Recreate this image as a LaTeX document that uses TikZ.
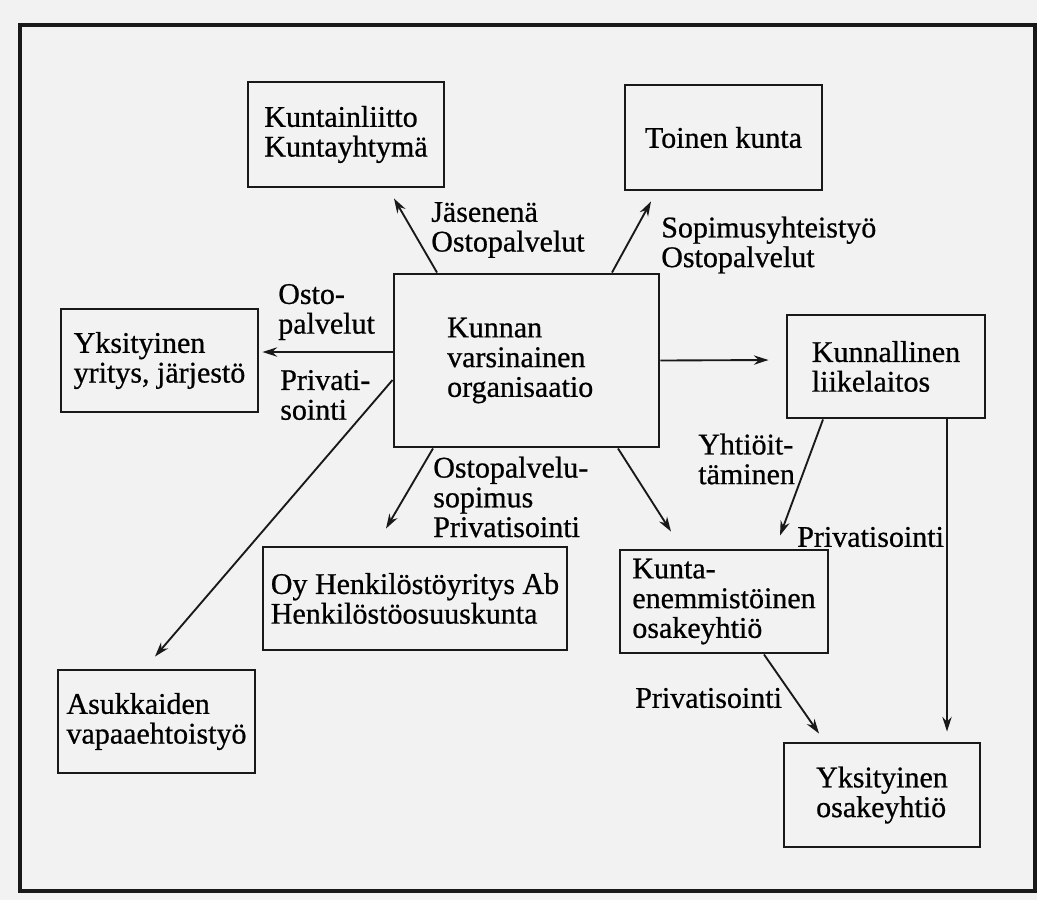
\documentclass[tikz,border=0pt]{standalone}
\usepackage{fontspec}
\setmainfont{Liberation Serif}
\newfontfamily\heavyserif{Liberation Serif}[FakeBold=0.7]
\usetikzlibrary{arrows.meta,calc}
\begin{document}
\begin{tikzpicture}[x=0.75pt,y=-0.75pt,
  txt/.style={font=\heavyserif\fontsize{22.5}{22.3}\selectfont},
  box/.style={txt,draw=black!90,line width=2.2pt,inner sep=0pt,align=left},
  lbl/.style={txt,inner sep=0pt,align=left,anchor=west},
  arr/.style={line width=1.4pt,draw=black!90,-{Stealth[length=11pt,width=7pt]}}
]
\useasboundingbox (0,0) rectangle (1037,900);
\fill[black!5] (0,0) rectangle (1037,900);
\draw[line width=2.4pt,black!90] (20,25) rectangle (1035,891);

\node[box,minimum width=147pt,minimum height=78.75pt] (kl) at (346,134.5) {Kuntainliitto\\Kuntayhtymä};
\node[box,minimum width=147.75pt,minimum height=78.75pt] (tk) at (723.5,137.5) {Toinen kunta};
\node[box,minimum width=198.75pt,minimum height=129.75pt,text width=119pt] (c) at (526.5,360.5) {Kunnan\\varsinainen\\organisaatio};
\node[box,minimum width=147.75pt,minimum height=77.25pt] (yy) at (159.5,360.5) {Yksityinen\\yritys, järjestö};
\node[box,minimum width=148.5pt,minimum height=77.25pt] (kli) at (886,366.5) {Kunnallinen\\liikelaitos};
\node[box,minimum width=228pt,minimum height=77.25pt] (oy) at (415,598.5) {Oy Henkilöstöyritys Ab\\Henkilöstöosuuskunta};
\node[box,minimum width=156pt,minimum height=77.25pt] (ke) at (724,601.5) {Kunta-\\enemmistöinen\\osakeyhtiö};
\node[box,minimum width=147.75pt,minimum height=77.25pt] (as) at (156.5,721.5) {Asukkaiden\\vapaaehtoistyö};
\node[box,minimum width=147pt,minimum height=78pt] (yo) at (882,795) {Yksityinen\\osakeyhtiö};

\draw[arr] ($(c.north)+(-89.5,0)$) -- ($(kl.south)+(48,10)$);
\draw[arr] ($(c.north)+(85.5,0)$) -- ($(tk.south)+(-72.5,10)$);
\draw[arr] ($(c.west)+(0,-8.5)$) -- ($(yy.east)+(3,-8.5)$);
\draw[arr] (c.east) -- ($(kli.west)+(-17,-6.5)$);
\draw[arr] ($(kli.south)+(-63,0)$) -- ($(ke.north)+(56,-13)$);
\draw[arr] ($(kli.south)+(61,0)$) -- ($(yo.north)+(65,-10)$);
\draw[arr] ($(c.south)+(-93.5,0)$) -- ($(oy.north)+(-29,-17)$);
\draw[arr] ($(c.south)+(91.5,0)$) -- ($(ke.north)+(-53,-17)$);
\draw[arr] ($(c.west)+(0,19.5)$) -- ($(as.north)+(-1.5,-12)$);
\draw[arr] ($(ke.south)+(40,0)$) -- ($(yo.north)+(-63,-8)$);

\node[lbl] (l1) at (431,230) {Jäsenenä\\Ostopalvelut};
\node[lbl] (l2) at (661,245) {Sopimusyhteistyö\\Ostopalvelut};
\node[lbl] (l3) at (278,312) {Osto-\\palvelut};
\node[lbl] (l4) at (280,395) {Privati-\\sointi};
\node[lbl] (l5) at (433,497) {Ostopalvelu-\\sopimus\\Privatisointi};
\node[lbl] (l6) at (698,459) {Yhtiöit-\\täminen};
\node[lbl] (l7) at (797,537) {Privatisointi};
\node[lbl] (l8) at (635,698) {Privatisointi};
\end{tikzpicture}
\end{document}
